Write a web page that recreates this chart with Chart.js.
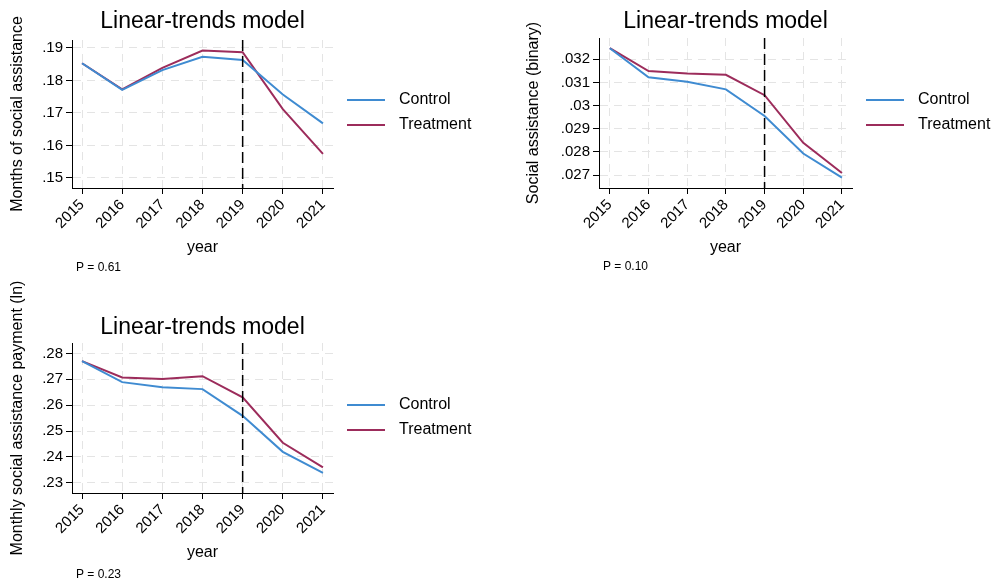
<!DOCTYPE html>
<html>
<head>
<meta charset="utf-8">
<script src="https://cdn.jsdelivr.net/npm/chart.js@4.4.1/dist/chart.umd.min.js"></script>
<style>
  html, body { margin:0; padding:0; background:#fff; }
  #wrap { position:relative; width:995px; height:584px; overflow:hidden; }
  canvas { position:absolute; }
</style>
</head>
<body>
<div id="wrap">
  <canvas id="c1" width="500" height="278" style="left:0;top:0"></canvas>
  <canvas id="c2" width="495" height="278" style="left:500px;top:0"></canvas>
  <canvas id="c3" width="500" height="306" style="left:0;top:278px"></canvas>
</div>
<script>
// ---- data ----
const years = [2015, 2016, 2017, 2018, 2019, 2020, 2021];
const seriesNames = ['Control', 'Treatment'];

const monthsControl   = [0.1853, 0.1771, 0.1832, 0.1873, 0.1863, 0.1757, 0.1668];
const monthsTreatment = [0.1853, 0.1773, 0.1839, 0.1892, 0.1887, 0.1712, 0.1574];
const monthsTicks  = [0.15, 0.16, 0.17, 0.18, 0.19];
const monthsLabels = ['.15', '.16', '.17', '.18', '.19'];

const binaryControl   = [0.03248, 0.03122, 0.03103, 0.03070, 0.02955, 0.02793, 0.02689];
const binaryTreatment = [0.03248, 0.03149, 0.03139, 0.03133, 0.03045, 0.02839, 0.02709];
const binaryTicks  = [0.027, 0.028, 0.029, 0.030, 0.031, 0.032];
const binaryLabels = ['.027', '.028', '.029', '.03', '.031', '.032'];

const paymentControl   = [0.2770, 0.2689, 0.2669, 0.2662, 0.2559, 0.2420, 0.2339];
const paymentTreatment = [0.2770, 0.2707, 0.2701, 0.2712, 0.2630, 0.2455, 0.2360];
const paymentTicks  = [0.23, 0.24, 0.25, 0.26, 0.27, 0.28];
const paymentLabels = ['.23', '.24', '.25', '.26', '.27', '.28'];

const pValues = ['P = 0.61', 'P = 0.10', 'P = 0.23'];
const interventionYear = 2019;
const chartTitle = 'Linear-trends model';

// ---- style ----
const FONT = '"Liberation Sans", Arial, sans-serif';
const BLUE = '#3f8bd1';
const MAROON = '#9c2c5b';

const extras = {
  id: 'extras',
  afterDatasetsDraw(chart, args, o) {
    const ctx = chart.ctx;
    const ca = chart.chartArea;
    const x = chart.scales.x;
    // vertical dashed line
    const vx = x.getPixelForValue(o.vline);
    ctx.save();
    ctx.strokeStyle = '#000';
    ctx.lineWidth = 1.5;
    ctx.setLineDash([11, 5]);
    ctx.beginPath();
    ctx.moveTo(vx, ca.top);
    ctx.lineTo(vx, ca.bottom);
    ctx.stroke();
    ctx.setLineDash([]);
    // title
    ctx.fillStyle = '#000';
    ctx.font = '23px ' + FONT;
    ctx.textAlign = 'center';
    ctx.textBaseline = 'middle';
    ctx.fillText(o.title, (ca.left + ca.right) / 2, o.titleY);
    // legend
    ctx.font = '16px ' + FONT;
    ctx.textAlign = 'left';
    chart.data.datasets.forEach((ds, i) => {
      const y = o.legY + i * 25;
      ctx.strokeStyle = ds.borderColor;
      ctx.lineWidth = 2;
      ctx.beginPath();
      ctx.moveTo(o.legX, y);
      ctx.lineTo(o.legX + 38, y);
      ctx.stroke();
      ctx.fillStyle = '#000';
      ctx.fillText(ds.label, o.legX + 52, y);
    });
    // p value
    ctx.font = '12px ' + FONT;
    ctx.fillText(o.p, o.pX, o.pY);
    ctx.restore();
  }
};

function makeChart(id, cfg) {
  const toPts = arr => arr.map((v, i) => ({ x: years[i], y: v }));
  return new Chart(document.getElementById(id), {
    type: 'line',
    data: {
      datasets: [
        { label: seriesNames[0], data: toPts(cfg.control), borderColor: BLUE, borderWidth: 2, pointRadius: 0, tension: 0, fill: false },
        { label: seriesNames[1], data: toPts(cfg.treatment), borderColor: MAROON, borderWidth: 2, pointRadius: 0, tension: 0, fill: false }
      ]
    },
    options: {
      responsive: false,
      animation: false,
      layout: { padding: cfg.padding },
      plugins: {
        legend: { display: false },
        tooltip: { enabled: false },
        extras: cfg.extras
      },
      scales: {
        x: {
          type: 'linear',
          min: cfg.xmin, max: cfg.xmax,
          afterBuildTicks: s => { s.ticks = years.map(v => ({ value: v })); },
          afterFit: s => { s.height = 80; },
          ticks: {
            color: '#000', font: { family: FONT, size: 15 },
            minRotation: 45, maxRotation: 45, padding: 2, autoSkip: false,
            callback: v => String(v)
          },
          grid: { color: '#e4e4e4', lineWidth: 1, tickColor: '#000', tickLength: 6 },
          border: { display: true, color: '#000', width: 1, dash: [8, 6] },
          title: { display: true, text: 'year', color: '#000', font: { family: FONT, size: 16 }, padding: { top: 0, bottom: 11 } }
        },
        y: {
          min: cfg.ymin, max: cfg.ymax,
          afterBuildTicks: s => { s.ticks = cfg.ticks.map(v => ({ value: v })); },
          afterFit: s => { s.width = cfg.yWidth; },
          ticks: {
            color: '#000', font: { family: FONT, size: 15 }, padding: 3, autoSkip: false,
            callback: (v, i) => cfg.labels[i]
          },
          grid: { color: '#e4e4e4', lineWidth: 1, tickColor: '#000', tickLength: 6 },
          border: { display: true, color: '#000', width: 1, dash: [8, 6] },
          title: { display: true, text: cfg.ytitle, color: '#000', font: { family: FONT, size: 16 }, padding: { top: cfg.yTitlePad, bottom: 0 } }
        }
      }
    },
    plugins: [extras]
  });
}

makeChart('c1', {
  control: monthsControl, treatment: monthsTreatment,
  ticks: monthsTicks, labels: monthsLabels,
  ymin: 0.14692, ymax: 0.19246, xmin: 2014.75, xmax: 2021.25,
  ytitle: 'Months of social assistance', yWidth: 72, yTitlePad: 8,
  padding: { left: 0, right: 167, top: 40, bottom: 10 },
  extras: { vline: interventionYear, title: chartTitle, titleY: 22, legX: 347, legY: 100, p: pValues[0], pX: 76, pY: 268 }
});

makeChart('c2', {
  control: binaryControl, treatment: binaryTreatment,
  ticks: binaryTicks, labels: binaryLabels,
  ymin: 0.02644, ymax: 0.03292, xmin: 2014.72, xmax: 2021.26,
  ytitle: 'Social assistance (binary)', yWidth: 99, yTitlePad: 24,
  padding: { left: 0, right: 143, top: 38, bottom: 10 },
  extras: { vline: interventionYear, title: chartTitle, titleY: 22, legX: 366, legY: 100, p: pValues[1], pX: 103, pY: 267 }
});

makeChart('c3', {
  control: paymentControl, treatment: paymentTreatment,
  ticks: paymentTicks, labels: paymentLabels,
  ymin: 0.2261, ymax: 0.2840, xmin: 2014.75, xmax: 2021.25,
  ytitle: 'Monthly social assistance payment (ln)', yWidth: 72, yTitlePad: 8,
  padding: { left: 0, right: 167, top: 65, bottom: 11 },
  extras: { vline: interventionYear, title: chartTitle, titleY: 50, legX: 347, legY: 127, p: pValues[2], pX: 76, pY: 297 }
});
</script>
</body>
</html>
